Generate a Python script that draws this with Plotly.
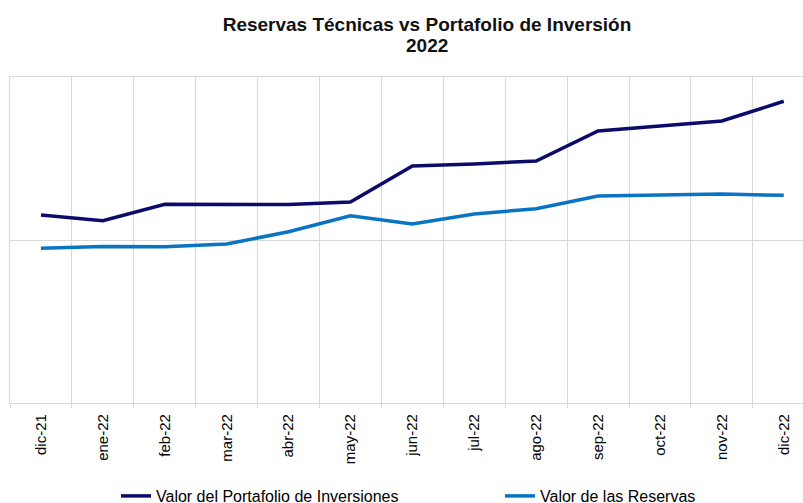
import plotly.graph_objects as go

meses = ["dic-21", "ene-22", "feb-22", "mar-22", "abr-22", "may-22", "jun-22",
         "jul-22", "ago-22", "sep-22", "oct-22", "nov-22", "dic-22"]

# valores (escala relativa, el original no muestra eje y)
portafolio = [1153, 1118, 1219, 1219, 1218, 1233, 1454, 1466, 1485, 1669, 1701, 1730, 1851]
reservas = [949, 960, 959, 975, 1051, 1149, 1098, 1160, 1192, 1270, 1276, 1282, 1274]

x = list(range(len(meses)))

fig = go.Figure()
fig.add_trace(go.Scatter(x=x, y=portafolio, mode="lines",
                         name="Valor del Portafolio de Inversiones",
                         line=dict(color="#0b0b6b", width=3.5), legend="legend"))
fig.add_trace(go.Scatter(x=x, y=reservas, mode="lines",
                         name="Valor de las Reservas",
                         line=dict(color="#0a74c4", width=3.5), legend="legend2"))

plot_h = 503 - 77 - 100
plot_w = 803 - 10
gris = "#d9d9d9"
leg_y = -(479 - 403) / plot_h

fig.update_layout(
    width=803, height=503,
    margin=dict(l=10, r=0, t=77, b=100, autoexpand=False),
    paper_bgcolor="white", plot_bgcolor="white",
    font=dict(family="Liberation Sans, Arial", color="#000000"),
    title=dict(text="<b>Reservas Técnicas vs Portafolio de Inversión</b>",
               x=427 / 803, xanchor="center", y=1 - 24 / 503, yanchor="middle",
               font=dict(size=19, family="Liberation Sans, Arial", color="#111111")),
    annotations=[dict(text="<b>2022</b>", xref="paper", yref="paper",
                      x=(427 - 10) / plot_w, y=1 + (77 - 45.5) / plot_h,
                      xanchor="center", yanchor="middle", showarrow=False,
                      font=dict(size=19, family="Liberation Sans, Arial", color="#111111"))],
    showlegend=True,
    legend=dict(orientation="h", x=(116 - 10) / plot_w, xanchor="left",
                y=leg_y, yanchor="top", font=dict(size=16), bgcolor="rgba(0,0,0,0)"),
    legend2=dict(orientation="h", x=(500 - 10) / plot_w, xanchor="left",
                 y=leg_y, yanchor="top", font=dict(size=16), bgcolor="rgba(0,0,0,0)"),
)

fig.update_xaxes(
    range=[-0.5, plot_w / 61.9 - 0.5],
    tickmode="array", tickvals=x, ticktext=meses, tickangle=-90,
    tickfont=dict(size=15, color="#000000"), ticklabelstandoff=4,
    showgrid=False, ticks="", zeroline=False,
    showline=True, mirror=True, linecolor=gris, linewidth=1.3,
    minor=dict(tickmode="array", tickvals=[i - 0.5 for i in range(14)],
               showgrid=True, gridcolor=gris, gridwidth=1.3,
               ticks="outside", ticklen=4, tickcolor=gris),
)
fig.update_yaxes(
    range=[0, 2000], tickvals=[0, 1000, 2000], showticklabels=False,
    showgrid=True, gridcolor=gris, gridwidth=1.3, zeroline=False,
    showline=True, mirror=False, linecolor=gris, linewidth=1.3,
)

fig.write_html("out.html", config={"displayModeBar": False},
               post_script="document.body.style.margin='0px';")
